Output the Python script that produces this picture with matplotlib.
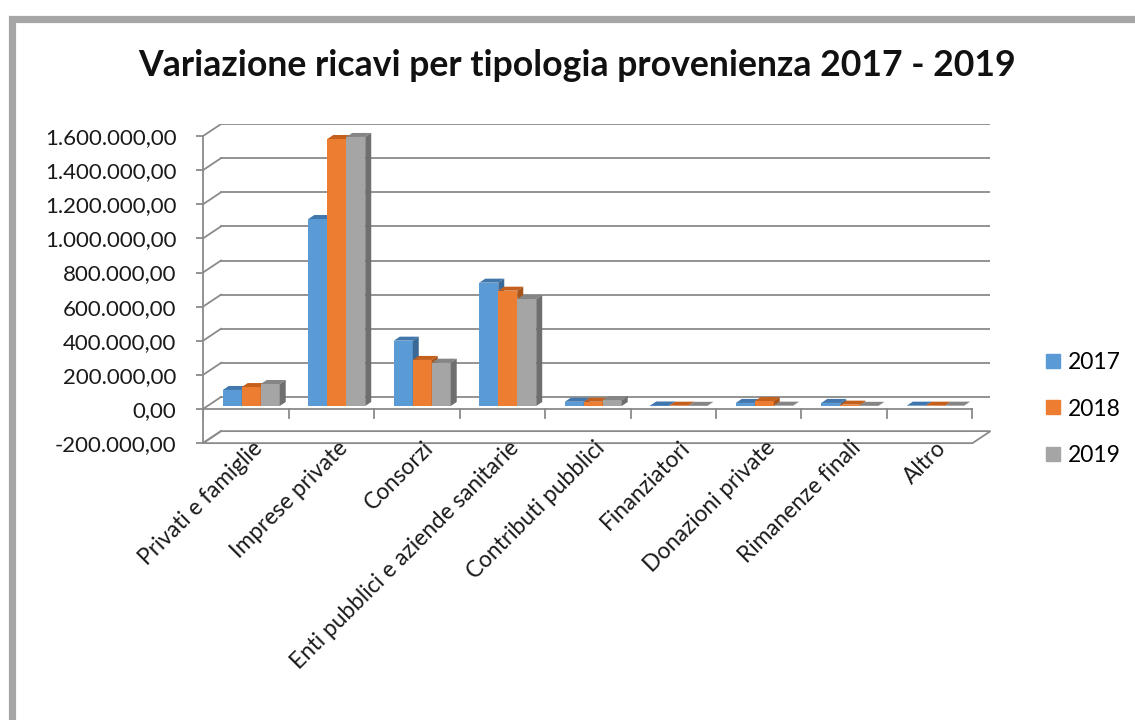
import numpy as np
import matplotlib
matplotlib.use("Agg")
import matplotlib.pyplot as plt
from matplotlib.patches import Polygon, Rectangle
from matplotlib.lines import Line2D

plt.rcParams['font.family'] = ['Lato', 'DejaVu Sans']

categories = ["Privati e famiglie", "Imprese private", "Consorzi",
              "Enti pubblici e aziende sanitarie", "Contributi pubblici",
              "Finanziatori", "Donazioni private", "Rimanenze finali", "Altro"]
years = ["2017", "2018", "2019"]
v2017 = [94000, 1096000, 383000, 723000, 25000, 3000, 18000, 18000, 2000]
v2018 = [111000, 1565000, 270000, 676000, 25000, 2000, 29000, 8000, 2000]
v2019 = [129000, 1577000, 254000, 627000, 35000, 1000, 2000, 1000, 2000]
yticks = [-200000, 0, 200000, 400000, 600000, 800000, 1000000, 1200000, 1400000, 1600000]

front = ["#5B9BD5", "#ED7D31", "#A5A5A5"]
top = ["#4277AD", "#C45F1C", "#858585"]
side = ["#3B6996", "#A8531A", "#6F6F6F"]
grid_c = "#8A8A8A"

# pixel geometry of the fake 3d box
W, H = 1135, 720
px_x = 85.5            # px per category
px_y = 170.6e-6        # px per unit of value
x0_px, y0_px = 203, 409
wall_dx, wall_dy = 18 / px_x, 12 / px_y
bar_dx, bar_dy = 6 / px_x, 4 / px_y
shift_x, shift_y = 5.5 / px_x, 3 / px_y
bw = 0.222

xmin, xmax = -0.5, len(categories) - 0.5 + wall_dx
ymin, ymax = -200000, 1600000 + wall_dy

fig = plt.figure(figsize=(W / 100, H / 100), dpi=100)
left = x0_px / W
width = (xmax - xmin) * px_x / W
bottom_px = y0_px + 200000 * px_y
height = (ymax - ymin) * px_y / H
ax = fig.add_axes([left, 1 - bottom_px / H, width, height])
ax.set_xlim(xmin, xmax)
ax.set_ylim(ymin, ymax)

for s in ["top", "right", "bottom"]:
    ax.spines[s].set_visible(False)
ax.spines["left"].set_bounds(-200000, 1600000)
ax.spines["left"].set_color(grid_c)
ax.spines["left"].set_linewidth(1.3)

def fmt(v):
    s = f"{abs(v):,.2f}".replace(",", "X").replace(".", ",").replace("X", ".")
    return ("-" if v < 0 else "") + s

ax.set_yticks(yticks)
ax.set_yticklabels([fmt(v) for v in yticks])
ax.tick_params(axis="y", length=5, width=1.3, color=grid_c, pad=14, labelsize=16,
               labelcolor="#1a1a1a")
ax.set_xticks([])

# walls: left side diagonals and back gridlines
for v in yticks:
    ax.plot([xmin, xmin + wall_dx], [v, v + wall_dy], color=grid_c, lw=1.3, zorder=1)
    if v > ymin:
        ax.plot([xmin + wall_dx, xmax], [v + wall_dy, v + wall_dy], color=grid_c, lw=1.3, zorder=1)

# floor at -200k
xr = len(categories) - 0.5
floor = Polygon([[xmin, ymin], [xr, ymin], [xr + wall_dx, ymin + wall_dy],
                 [xmin + wall_dx, ymin + wall_dy]], closed=True, fill=False,
                edgecolor=grid_c, lw=1.3, zorder=1, clip_on=False)
ax.add_patch(floor)

# category axis at zero
ax.plot([xmin, xr], [0, 0], color=grid_c, lw=1.3, zorder=1)
for b in np.arange(len(categories) + 1) - 0.5:
    ax.plot([b, b], [0, -9 / px_y], color=grid_c, lw=1.3, zorder=1)

# bars
series = [v2017, v2018, v2019]
margin = (1 - 3 * bw) / 2
for i in range(len(categories)):
    for j, vals in enumerate(series):
        h = vals[i]
        xl = i - 0.5 + margin + j * bw + shift_x
        b0 = shift_y
        ax.bar(xl, h, width=bw, bottom=b0, align="edge", color=front[j],
               linewidth=0, zorder=3 + i * 3 + j)
        ax.add_patch(Polygon([[xl, b0 + h], [xl + bw, b0 + h],
                              [xl + bw + bar_dx, b0 + h + bar_dy], [xl + bar_dx, b0 + h + bar_dy]],
                             closed=True, facecolor=top[j], lw=0, zorder=3 + i * 3 + j))
        ax.add_patch(Polygon([[xl + bw, b0], [xl + bw, b0 + h],
                              [xl + bw + bar_dx, b0 + h + bar_dy], [xl + bw + bar_dx, b0 + bar_dy]],
                             closed=True, facecolor=side[j], lw=0, zorder=3 + i * 3 + j))

# category labels
for i, c in enumerate(categories):
    ax.text(i + 0.07, -165000, c, rotation=45, rotation_mode="anchor",
            ha="right", va="top", fontsize=16.3, color="#1a1a1a")

fig.text(577 / W, 1 - 65 / H, "Variazione ricavi per tipologia provenienza 2017 - 2019",
         ha="center", va="center", fontsize=25.7, fontweight="bold", color="#111111")

handles = [Line2D([], [], marker="s", ls="none", markersize=10, color=c) for c in front]
fig.legend(handles, years, loc="center left", bbox_to_anchor=(1021 / W, 1 - 409 / H),
           frameon=False, fontsize=16.5, labelspacing=1.1, handletextpad=0.15,
           handlelength=1.0)

# outer frame
fig.patches.append(Rectangle((11.5 / W, -0.2), 1.2, (1 - 18.5 / H) + 0.2,
                             transform=fig.transFigure, fill=False,
                             edgecolor="#A6A6A6", lw=5.2))

fig.savefig("out.png", dpi=100)
